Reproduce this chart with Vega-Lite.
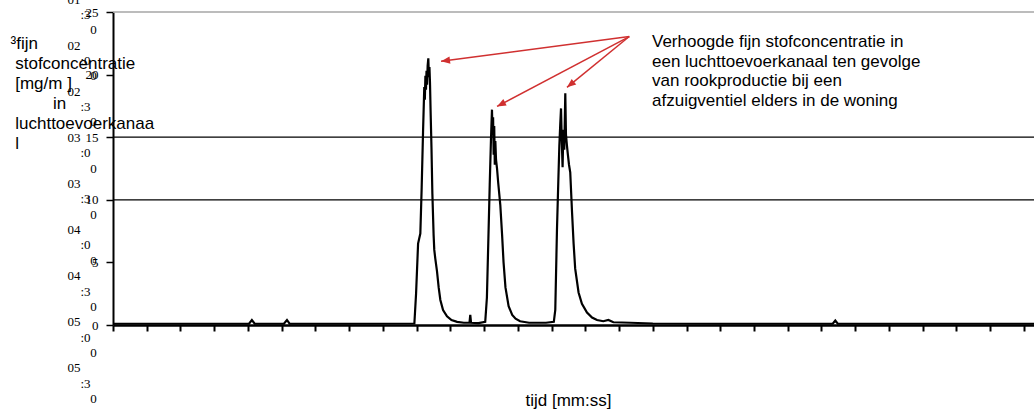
{
  "$schema": "https://vega.github.io/schema/vega-lite/v6.json",
  "autosize": {"type": "none"},
  "padding": {"left": 113, "top": 12, "right": 0, "bottom": 84},
  "width": 921,
  "height": 313,
  "background": "white",
  "config": {"view": {"stroke": null}, "font": "Liberation Sans"},
  "datasets": {
    "pm": [
      {"t":0,"v":0.1},{"t":60,"v":0.1},{"t":121,"v":0.1},{"t":123.5,"v":0.4},{"t":126,"v":0.1},{"t":152,"v":0.1},{"t":154.7,"v":0.4},{"t":157,"v":0.1},{"t":210,"v":0.1},{"t":268,"v":0.12},
      {"t":269.5,"v":2.5},{"t":271.3,"v":6.5},{"t":272.3,"v":6.9},{"t":273.3,"v":7.3},{"t":274.5,"v":11.0},{"t":275.7,"v":15.4},{"t":276.8,"v":19.0},{"t":277.3,"v":18.0},{"t":277.8,"v":19.9},{"t":278.3,"v":18.8},{"t":278.8,"v":20.3},{"t":279.3,"v":19.2},{"t":279.8,"v":20.7},{"t":280.4,"v":21.3},{"t":280.9,"v":19.8},{"t":281.4,"v":20.6},{"t":281.9,"v":19.3},{"t":282.4,"v":17.2},{"t":283.2,"v":14.2},{"t":284.0,"v":10.5},{"t":285.1,"v":7.2},{"t":285.7,"v":6.0},{"t":286.6,"v":5.3},{"t":288.1,"v":4.3},{"t":289.6,"v":3.0},{"t":291.1,"v":2.0},{"t":293.5,"v":1.2},{"t":297,"v":0.7},{"t":301,"v":0.4},{"t":306,"v":0.25},{"t":312,"v":0.18},{"t":317,"v":0.18},{"t":317.7,"v":0.8},{"t":318.4,"v":0.18},{"t":325,"v":0.15},{"t":331,"v":0.25},
      {"t":332.5,"v":2.2},{"t":334,"v":7.6},{"t":335,"v":11.2},{"t":336.1,"v":14.8},{"t":337.0,"v":17.2},{"t":337.5,"v":15.4},{"t":338,"v":16.6},{"t":338.5,"v":13.6},{"t":339,"v":15.9},{"t":339.5,"v":12.8},{"t":340,"v":14.7},{"t":340.6,"v":13.2},{"t":341.5,"v":12.5},{"t":342.5,"v":11.4},{"t":344.4,"v":9.6},{"t":346,"v":7.2},{"t":347.3,"v":5.0},{"t":349,"v":3.0},{"t":351.8,"v":1.5},{"t":355,"v":0.8},{"t":358,"v":0.5},{"t":362,"v":0.3},{"t":370,"v":0.18},{"t":385,"v":0.18},{"t":392,"v":0.25},
      {"t":393.3,"v":1.2},{"t":394.8,"v":7.6},{"t":396,"v":11.5},{"t":396.9,"v":14.3},{"t":397.7,"v":16.0},{"t":398.4,"v":17.3},{"t":399.1,"v":14.6},{"t":399.8,"v":12.6},{"t":400.5,"v":15.6},{"t":401.3,"v":14.0},{"t":402.2,"v":18.5},{"t":402.8,"v":15.2},{"t":403.7,"v":14.3},{"t":404.5,"v":13.6},{"t":405.5,"v":12.8},{"t":406.6,"v":12.2},{"t":408.2,"v":9.0},{"t":409.6,"v":6.5},{"t":411,"v":4.5},{"t":414,"v":2.6},{"t":417,"v":1.7},{"t":421.5,"v":1.0},{"t":426,"v":0.6},{"t":430.4,"v":0.4},{"t":436,"v":0.3},{"t":440.5,"v":0.4},{"t":445,"v":0.22},{"t":460,"v":0.18},{"t":480,"v":0.12},{"t":540,"v":0.1},{"t":640,"v":0.1},{"t":642.3,"v":0.35},{"t":644.5,"v":0.1},{"t":700,"v":0.1},{"t":819,"v":0.1}
    ],
    "grid": [{"v":25},{"v":15},{"v":10}],
    "arrows": [
      {"id":1,"t0":459.1,"v0":23.04,"t1":291.7,"v1":21.06},
      {"id":2,"t0":459.1,"v0":23.04,"t1":341.5,"v1":17.46},
      {"id":3,"t0":459.1,"v0":23.04,"t1":403.7,"v1":18.98}
    ],
    "note": [{"t":479.3,"v":23.26,"text":"Verhoogde fijn stofconcentratie in\neen luchttoevoerkanaal ten gevolge\nvan rookproductie bij een\nafzuigventiel elders in de woning"}]
  },
  "layer": [
    {
      "data": {"name": "grid"},
      "mark": {"type": "rule"},
      "encoding": {
        "y": {
          "field": "v", "type": "quantitative",
          "scale": {"domain": [0, 25], "nice": false},
          "axis": {
            "orient": "left", "labels": false, "ticks": false, "domain": false, "grid": false,
            "title": ["01", "\u200b\u00a0\u00a0\u00a0\u00a0:3", "\u200b\u00a0\u00a0\u00a0\u00a0\u00a0\u00a0\u00a00", "02", "\u200b\u00a0\u00a0\u00a0\u00a0:0", "\u200b\u00a0\u00a0\u00a0\u00a0\u00a0\u00a0\u00a00", "02", "\u200b\u00a0\u00a0\u00a0\u00a0:3", "\u200b\u00a0\u00a0\u00a0\u00a0\u00a0\u00a0\u00a00", "03", "\u200b\u00a0\u00a0\u00a0\u00a0:0", "\u200b\u00a0\u00a0\u00a0\u00a0\u00a0\u00a0\u00a00", "03", "\u200b\u00a0\u00a0\u00a0\u00a0:3", "\u200b\u00a0\u00a0\u00a0\u00a0\u00a0\u00a0\u00a00", "04", "\u200b\u00a0\u00a0\u00a0\u00a0:0", "\u200b\u00a0\u00a0\u00a0\u00a0\u00a0\u00a0\u00a00", "04", "\u200b\u00a0\u00a0\u00a0\u00a0:3", "\u200b\u00a0\u00a0\u00a0\u00a0\u00a0\u00a0\u00a00", "05", "\u200b\u00a0\u00a0\u00a0\u00a0:0", "\u200b\u00a0\u00a0\u00a0\u00a0\u00a0\u00a0\u00a00", "05", "\u200b\u00a0\u00a0\u00a0\u00a0:3", "\u200b\u00a0\u00a0\u00a0\u00a0\u00a0\u00a0\u00a00", "06", "\u200b\u00a0\u00a0\u00a0\u00a0:0", "\u200b\u00a0\u00a0\u00a0\u00a0\u00a0\u00a0\u00a00"],
            "titleFont": "Liberation Serif", "titleFontSize": 13, "titleFontWeight": "normal", "titleColor": "#000000",
            "titleAngle": 0, "titleAlign": "left", "titleBaseline": "top", "titleLineHeight": 15.37,
            "titleX": -46, "titleY": -19
          }
        },
        "color": {"condition": {"test": "datum.v == 25", "value": "#a6a6a6"}, "value": "black"},
        "strokeWidth": {"condition": {"test": "datum.v == 25", "value": 1.5}, "value": 1.2}
      }
    },
    {
      "layer": [
        {
          "data": {"name": "pm"},
          "mark": {"type": "line", "color": "black", "strokeWidth": 2.2},
          "encoding": {
            "x": {
              "field": "t", "type": "quantitative",
              "scale": {"domain": [0, 819], "nice": false, "zero": false},
              "axis": {
                "values": [0,30,60,90,120,150,180,210,240,270,300,330,360,390,420,450,480,510,540,570,600,630,660,690,720,750,780,810],
                "tickCount": 28, "labelOverlap": false, "labelBound": false,
                "labels": false, "grid": false,
                "tickSize": 6, "tickWidth": 2, "tickColor": "black",
                "domainColor": "black", "domainWidth": 2.5,
                "title": "tijd [mm:ss]", "titleFont": "Liberation Sans", "titleFontSize": 17, "titleFontWeight": "normal", "titleColor": "black",
                "titleX": 455, "titleY": 80, "titleAlign": "center", "titleBaseline": "alphabetic"
              }
            },
            "y": {
              "field": "v", "type": "quantitative",
              "scale": {"domain": [0, 25], "nice": false},
              "axis": {
                "orient": "left", "values": [0,5,10,15,20,25], "grid": false,
                "labelFont": "Liberation Serif", "labelFontSize": 13, "labelColor": "black", "labelPadding": 8,
                "tickSize": 7, "tickWidth": 1.5, "tickColor": "black",
                "domainColor": "black", "domainWidth": 2,
                "title": ["\u00b3fijn", "\u200b\u00a0stofconcentratie", "\u200b\u00a0[mg/m ]", "\u200b\u00a0\u00a0\u00a0\u00a0\u00a0\u00a0\u00a0\u00a0\u00a0in", "\u200b\u00a0luchttoevoerkanaa", "\u200b\u00a0l"],
                "titleFont": "Liberation Sans", "titleFontSize": 17, "titleFontWeight": "normal", "titleColor": "black",
                "titleAngle": 0, "titleAlign": "left", "titleBaseline": "top", "titleLineHeight": 20,
                "titleX": -103, "titleY": 23
              }
            }
          }
        },
        {
          "data": {"name": "arrows"},
          "mark": {"type": "rule", "color": "#d03030", "strokeWidth": 1.5},
          "encoding": {
            "x": {"field": "t0", "type": "quantitative"},
            "y": {"field": "v0", "type": "quantitative"},
            "x2": {"field": "t1"},
            "y2": {"field": "v1"}
          }
        },
        {
          "data": {"name": "arrows"},
          "transform": [{"filter": "datum.id == 1"}],
          "mark": {"type": "point", "shape": "M0,0L-0.4,1L0.4,1Z", "filled": true, "color": "#d03030", "opacity": 1, "size": 324, "angle": 262.5, "strokeWidth": 0},
          "encoding": {"x": {"field": "t1", "type": "quantitative"}, "y": {"field": "v1", "type": "quantitative"}}
        },
        {
          "data": {"name": "arrows"},
          "transform": [{"filter": "datum.id == 2"}],
          "mark": {"type": "point", "shape": "M0,0L-0.4,1L0.4,1Z", "filled": true, "color": "#d03030", "opacity": 1, "size": 324, "angle": 242.2, "strokeWidth": 0},
          "encoding": {"x": {"field": "t1", "type": "quantitative"}, "y": {"field": "v1", "type": "quantitative"}}
        },
        {
          "data": {"name": "arrows"},
          "transform": [{"filter": "datum.id == 3"}],
          "mark": {"type": "point", "shape": "M0,0L-0.4,1L0.4,1Z", "filled": true, "color": "#d03030", "opacity": 1, "size": 324, "angle": 230.9, "strokeWidth": 0},
          "encoding": {"x": {"field": "t1", "type": "quantitative"}, "y": {"field": "v1", "type": "quantitative"}}
        },
        {
          "data": {"name": "note"},
          "mark": {"type": "text", "align": "left", "baseline": "top", "fontSize": 17, "font": "Liberation Sans", "color": "black", "lineBreak": "\n", "lineHeight": 19.8},
          "encoding": {
            "x": {"field": "t", "type": "quantitative"},
            "y": {"field": "v", "type": "quantitative"},
            "text": {"field": "text"}
          }
        }
      ]
    }
  ],
  "resolve": {"scale": {"y": "independent"}}
}
